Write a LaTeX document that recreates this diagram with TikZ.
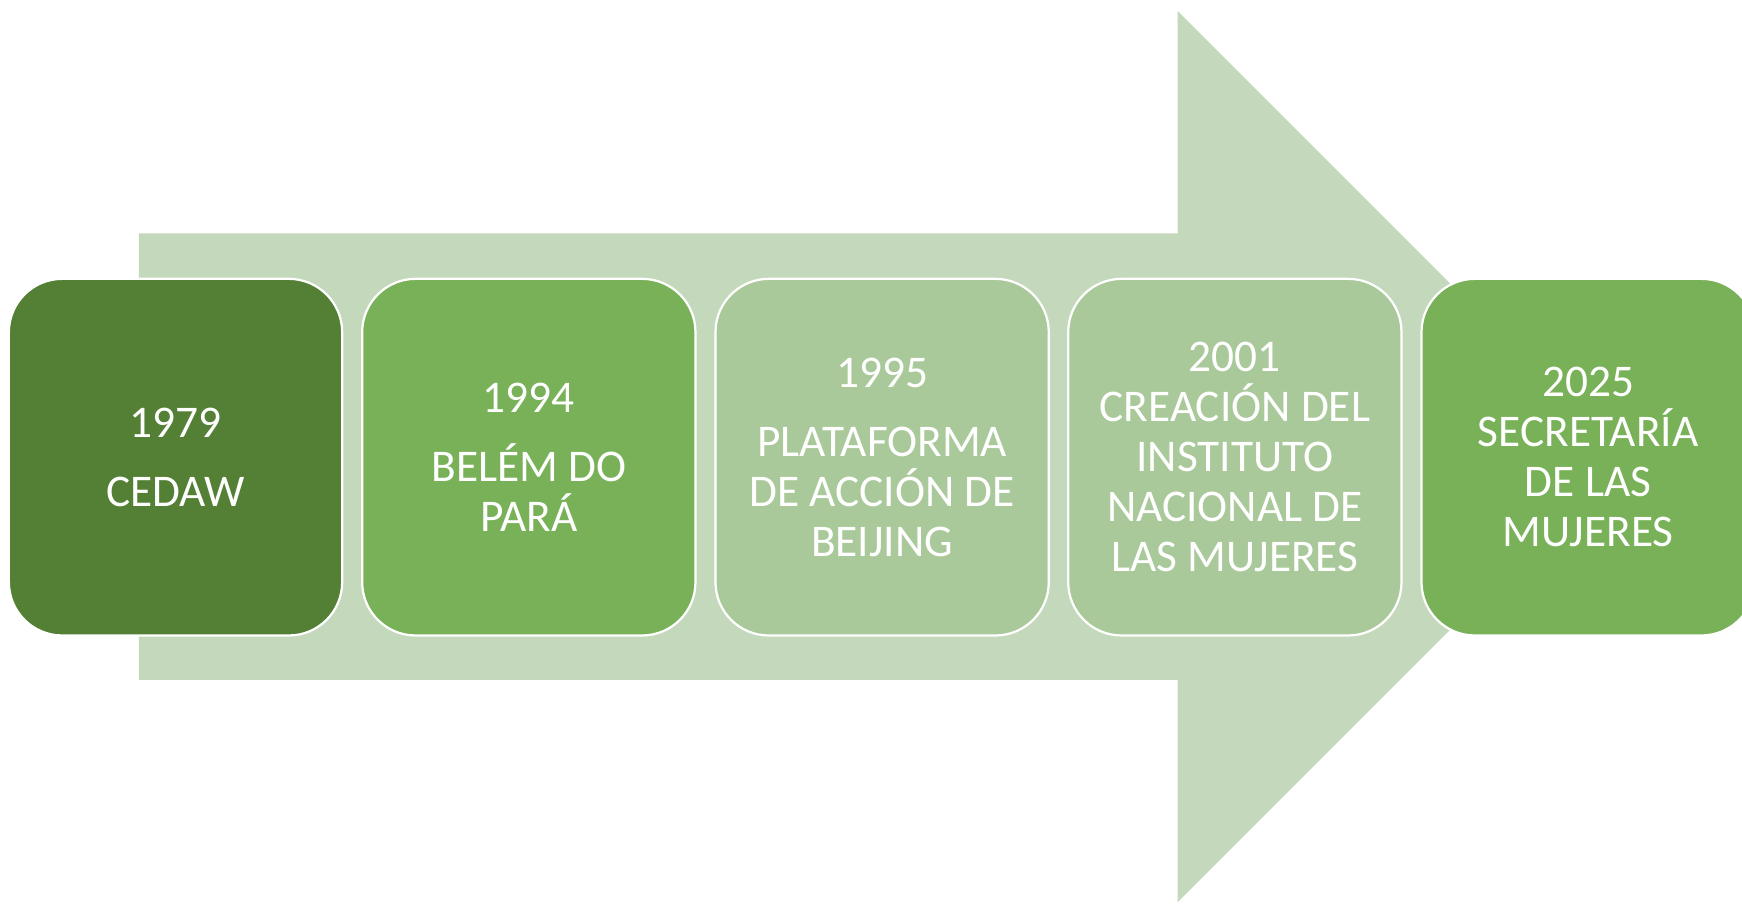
\documentclass[tikz,border=0pt]{standalone}
\usepackage{fontspec}
\setmainfont{Carlito}
\definecolor{arrowc}{RGB}{196,216,188}
\definecolor{darkg}{RGB}{83,128,52}
\definecolor{midg}{RGB}{121,177,89}
\definecolor{paleg}{RGB}{170,201,155}
\tikzset{
  stage/.style={draw=white, line width=1pt, rounded corners=24pt,
    minimum width=150pt, minimum height=160.5pt, inner sep=0pt,
    align=center, text=white, font=\fontsize{20.4}{22.5}\selectfont},
  bigarrow/.style={fill=arrowc, draw=none}
}
\begin{document}
\begin{tikzpicture}[x=0.5pt,y=-0.5pt]
\useasboundingbox (0,0) rectangle (1568,813);
\clip (0,0) rectangle (1568,813);
\fill[white] (0,0) rectangle (1568,813);
\fill[bigarrow] (125,210) -- (1060,210) -- (1060,10) -- (1461,411) -- (1060,812) -- (1060,612) -- (125,612) -- cycle;
\node[stage, fill=darkg] (n1) at (158,411.5) {1979\\[8.5pt]CEDAW};
\node[stage, fill=midg] (n2) at (476,411.5) {1994\\[8.5pt]BELÉM DO\\PARÁ};
\node[stage, fill=paleg] (n3) at (794,411.5) {1995\\[8.5pt]PLATAFORMA\\DE ACCIÓN DE\\BEIJING};
\node[stage, fill=paleg] (n4) at (1111.5,411.5) {2001\\CREACIÓN DEL\\INSTITUTO\\NACIONAL DE\\LAS MUJERES};
\node[stage, fill=midg] (n5) at (1429.5,411.5) {2025\\SECRETARÍA\\DE LAS\\MUJERES};
\end{tikzpicture}
\end{document}
